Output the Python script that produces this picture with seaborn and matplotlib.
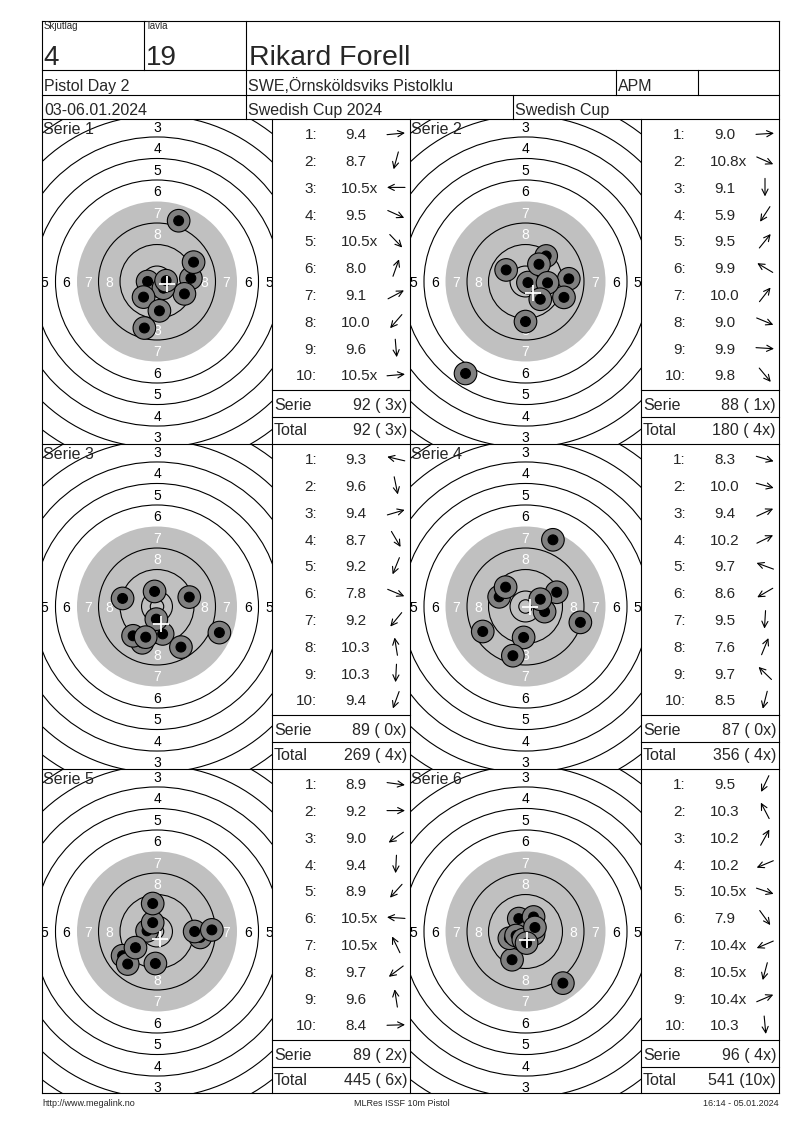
import numpy as np
import pandas as pd
import matplotlib
matplotlib.use('Agg')
import matplotlib.pyplot as plt
from matplotlib.patches import Circle
import seaborn as sns

#%% header texts
skjutlag = '4'
tavla = '19'
shooter = 'Rikard Forell'
event = 'Pistol Day 2'
club = 'SWE,Örnsköldsviks Pistolklu'
klass = 'APM'
dates = '03-06.01.2024'
match = 'Swedish Cup 2024'
cup = 'Swedish Cup'
footer_left = 'http://www.megalink.no'
footer_mid = 'MLRes ISSF 10m Pistol'
footer_right = '16:14 - 05.01.2024'

#%% shots: score text and hit position in mm from centre (x right, y up)
scores_1 = ['9.4', '8.7', '10.5x', '9.5', '10.5x', '8.0', '9.1', '10.0', '9.6', '10.5x']
x_1 = [12.6, -4.7, -3.5, 10.2, 2.4, 8.05, 13.6, -5.0, 0.9, 3.4]
y_1 = [1.2, -17.3, 0.0, -4.6, -2.5, 22.6, 7.2, -5.8, -10.9, 0.3]

scores_2 = ['9.0', '10.8x', '9.1', '5.9', '9.5', '9.9', '10.0', '9.0', '9.9', '9.8']
x_2 = [16.1, 0.9, 0.0, -22.3, 7.7, -7.2, 5.0, 14.3, 8.2, 5.5]
y_2 = [1.0, -0.4, -14.9, -34.2, 9.5, 4.3, 6.4, -5.9, -0.5, -6.6]

scores_3 = ['9.3', '9.6', '9.4', '8.7', '9.2', '7.8', '9.2', '10.3', '10.3', '9.4']
x_3 = [-12.8, 2.1, 12.0, 8.9, -5.5, 23.2, -8.9, -0.9, -0.25, -4.2]
y_3 = [3.0, -10.2, 3.5, -15.1, -13.5, -9.7, -10.9, 5.6, -4.7, -11.4]

scores_4 = ['8.3', '10.0', '9.4', '10.2', '9.7', '8.6', '9.5', '7.6', '9.7', '8.5']
x_4 = [20.4, 7.1, 11.6, 5.5, -9.8, -15.9, -0.7, 10.2, -7.4, -4.7]
y_4 = [-5.9, -1.9, 5.3, 2.7, 3.6, -9.3, -11.5, 24.8, 7.2, -18.3]

scores_5 = ['8.9', '9.2', '9.0', '9.4', '8.9', '10.5x', '10.5x', '9.7', '9.6', '8.4']
x_5 = [16.1, 14.0, -12.8, -0.6, -10.9, -3.7, -1.6, -8.0, -1.6, 20.4]
y_5 = [-2.2, 0.0, -9.0, -11.9, -12.1, 0.25, 3.3, -6.0, 10.4, 0.6]

scores_6 = ['9.5', '10.3', '10.2', '10.2', '10.5x', '7.9', '10.4x', '10.5x', '10.4x', '10.3']
x_6 = [-5.0, -2.5, 3.0, -6.0, 3.0, 13.9, -3.5, -0.8, 3.5, 0.4]
y_6 = [-10.5, 4.8, 5.4, -2.5, -1.0, -19.2, -1.5, -3.0, 1.5, -4.3]

series_names = ['Serie 1', 'Serie 2', 'Serie 3', 'Serie 4', 'Serie 5', 'Serie 6']
serie_sum = [92, 88, 89, 87, 89, 96]
serie_x = [3, 1, 0, 0, 2, 4]
total_sum = [92, 180, 269, 356, 445, 541]
total_x = [3, 4, 4, 4, 6, 10]

all_scores = [scores_1, scores_2, scores_3, scores_4, scores_5, scores_6]
all_x = [x_1, x_2, x_3, x_4, x_5, x_6]
all_y = [y_1, y_2, y_3, y_4, y_5, y_6]

#%% style
sns.set_style('white')
plt.rcParams['font.family'] = ['Liberation Sans', 'DejaVu Sans']

W, H = 800, 1130
fig = plt.figure(figsize=(8, 11.3), dpi=100)
fig.patch.set_facecolor('white')

px_mm = 2.689        # pixels per mm on the target
row_top = [119, 444, 769]
row_h = 325
col_edges = [(42, 272, 410), (410, 641, 779)]   # target left, table left, table right
gray = '#c0c0c0'
lw = 0.8


def target(k):
    r, c = divmod(k, 2)
    x0, x1, _ = col_edges[c]
    y0 = row_top[r]
    ax = fig.add_axes([x0 / W, 1 - (y0 + row_h) / H, (x1 - x0) / W, row_h / H])
    ax.axis('off')
    ax.add_patch(Circle((0, 0), 29.75, fc=gray, ec='none', zorder=1))
    for ring in range(1, 11):
        if ring == 7:
            continue
        ax.add_patch(Circle((0, 0), 5.75 + (10 - ring) * 8, fill=False, ec='black', lw=lw, zorder=2))
    ax.add_patch(Circle((0, 0), 2.5, fill=False, ec='black', lw=lw, zorder=2))
    for ring in range(3, 9):
        rr = 1.75 + (10 - ring) * 8
        colr = 'white' if ring >= 7 else 'black'
        for dx, dy in [(0, 1), (0, -1), (1, 0), (-1, 0)]:
            ax.text(dx * rr, dy * rr, str(ring), ha='center', va='center_baseline',
                    fontsize=10, color=colr, clip_on=True, zorder=3)

    xs, ys = all_x[k], all_y[k]
    pts = []
    for i in range(len(xs)):
        pts.append({'x': xs[i], 'y': ys[i], 'part': 'outer'})
        pts.append({'x': xs[i], 'y': ys[i], 'part': 'inner'})
    df = pd.DataFrame(pts)
    sns.scatterplot(data=df, x='x', y='y', hue='part', size='part',
                    sizes={'outer': 265, 'inner': 50},
                    palette={'outer': '#808080', 'inner': 'black'},
                    edgecolor='black', linewidth=0.8, legend=False, ax=ax, zorder=5)
    ax.plot(np.mean(xs), np.mean(ys), marker='+', color='white', ms=12, mew=1.3, zorder=6)

    hw = (x1 - x0) / 2 / px_mm
    hh = row_h / 2 / px_mm
    ax.set_xlim(-hw, hw)
    ax.set_ylim(-hh, hh)
    ax.axis('off')


for k in range(6):
    target(k)

# overlay for grid lines and text, in page pixels
pg = fig.add_axes([0, 0, 1, 1], zorder=10)
pg.set_xlim(0, W)
pg.set_ylim(H, 0)
pg.axis('off')
pg.patch.set_alpha(0)


def hl(y, x0, x1):
    pg.plot([x0, x1], [y, y], color='black', lw=lw, solid_capstyle='projecting')


def vl(x, y0, y1):
    pg.plot([x, x], [y0, y1], color='black', lw=lw, solid_capstyle='projecting')


L, R, T, B = 42, 779, 21, 1093
for y in [T, 70, 95, 119, 444, 769, B]:
    hl(y, L, R)
vl(L, T, B)
vl(R, T, B)
vl(144, T, 70)
vl(246, T, 119)
vl(616, 70, 95)
vl(698, 70, 95)
vl(513, 95, 119)
for x in [272, 410, 641]:
    vl(x, 119, B)
for r in range(3):
    for c in range(2):
        _, tl, tr = col_edges[c]
        hl(row_top[r] + 271, tl, tr)
        hl(row_top[r] + 298, tl, tr)

# header
pg.text(44, 29, 'Skjutlag', fontsize=7, va='baseline')
pg.text(146, 29, 'Tavla', fontsize=7, va='baseline')
pg.text(43, 65, skjutlag, fontsize=20, va='baseline')
pg.text(146, 65, tavla, fontsize=20, va='baseline')
pg.text(249, 65, shooter, fontsize=20.5, va='baseline')
pg.text(44, 91, event, fontsize=11.5, va='baseline')
pg.text(248, 91, club, fontsize=11.5, va='baseline')
pg.text(618, 91, klass, fontsize=11.5, va='baseline')
pg.text(44, 115, dates, fontsize=11.5, va='baseline')
pg.text(248, 115, match, fontsize=11.5, va='baseline')
pg.text(515, 115, cup, fontsize=11.5, va='baseline')

# tables
fs = 11
fs_px = fs * 100 / 72
def num_width(s):
    return sum(0.278 if ch == '.' else 0.556 for ch in s) * fs_px

for k in range(6):
    r, c = divmod(k, 2)
    x0, tl, tr = col_edges[c]
    top = row_top[r]
    pg.text(x0 + 1, top + 15, series_names[k], fontsize=11.5, va='baseline')
    for i, sc in enumerate(all_scores[k]):
        yc = top + 14.8 + 26.8 * i
        pg.text(tl + 45, yc + 5.4, f'{i + 1}:', fontsize=fs, ha='right', va='baseline')
        numeric = sc.rstrip('x')
        pg.text(tl + 84 - num_width(numeric) / 2, yc + 5.4, sc, fontsize=fs, ha='left', va='baseline')
        sx, sy = all_x[k][i], all_y[k][i]
        n = np.hypot(sx, sy)
        ux, uy = sx / n, -sy / n
        cx = tl + 124
        pg.annotate('', xy=(cx + 9 * ux, yc + 9 * uy), xytext=(cx - 9 * ux, yc - 9 * uy),
                    arrowprops=dict(arrowstyle='->', lw=0.8, color='black',
                                    mutation_scale=11, shrinkA=0, shrinkB=0))
    pg.text(tl + 2, top + 290.7, 'Serie', fontsize=11.5, va='baseline')
    pg.text(tr - 3, top + 290.7, f'{serie_sum[k]} ({serie_x[k]:2d}x)', fontsize=11.5, ha='right', va='baseline')
    pg.text(tl + 2, top + 316.3, 'Total', fontsize=11.5, va='baseline')
    pg.text(tr - 3, top + 316.3, f'{total_sum[k]} ({total_x[k]:2d}x)', fontsize=11.5, ha='right', va='baseline')

# footer
pg.text(42, 1106, footer_left, fontsize=6.5, va='baseline')
pg.text(402, 1106, footer_mid, fontsize=6.5, ha='center', va='baseline')
pg.text(779, 1106, footer_right, fontsize=6.5, ha='right', va='baseline')

fig.savefig('out.png', dpi=100, facecolor='white')
